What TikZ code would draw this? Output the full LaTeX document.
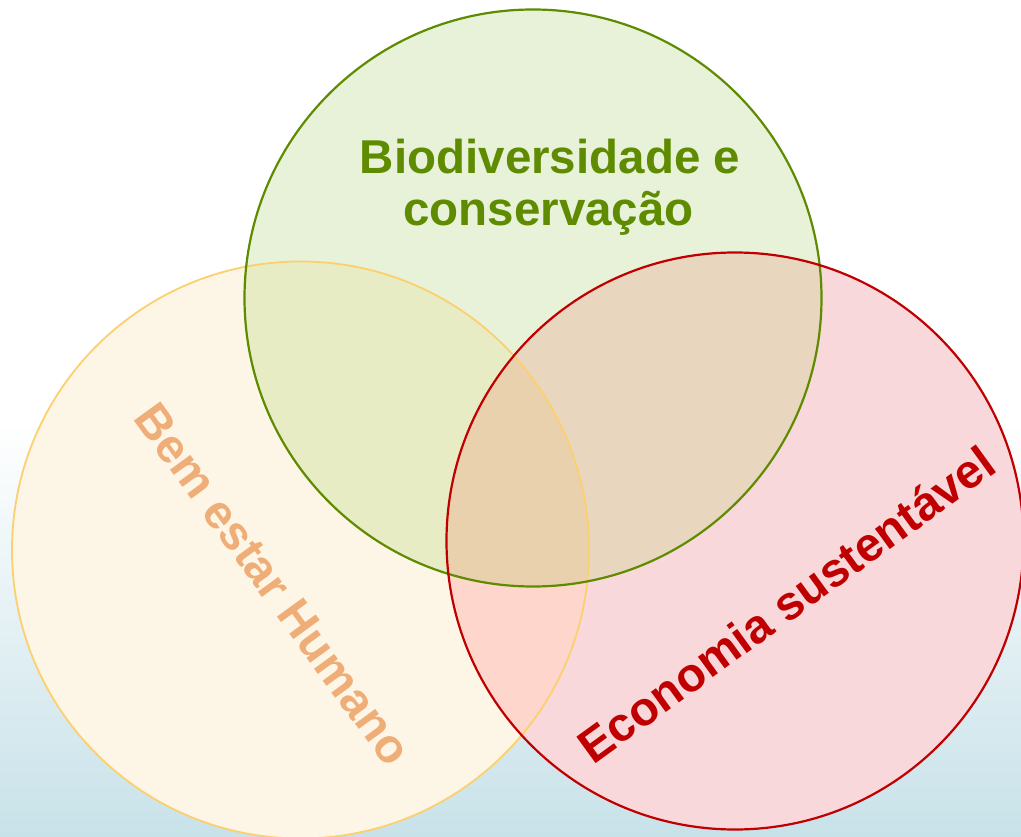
\documentclass[tikz,border=0pt]{standalone}
\usepackage{fontspec}
\setmainfont{Liberation Sans}
\definecolor{bgblue}{RGB}{200,226,233}
\definecolor{yonly}{RGB}{253,246,230}
\definecolor{gonly}{RGB}{232,242,216}
\definecolor{ronly}{RGB}{249,216,219}
\definecolor{gy}{RGB}{232,236,196}
\definecolor{gr}{RGB}{232,214,190}
\definecolor{yr}{RGB}{254,214,204}
\definecolor{gyr}{RGB}{234,209,174}
\definecolor{gline}{RGB}{95,139,0}
\definecolor{rline}{RGB}{192,0,0}
\definecolor{yline}{RGB}{252,208,110}
\definecolor{bemtxt}{RGB}{239,173,120}
\begin{document}
\begin{tikzpicture}[x=1pt,y=-1pt,
  lbl/.style={inner sep=0pt,font=\fontsize{47.5}{50}\selectfont\bfseries},
  outline/.style={line width=2.2pt}]
\useasboundingbox (0,0) rectangle (1021,837);
\fill[white] (0,0) rectangle (1021,837);
\shade[top color=white, bottom color=bgblue] (0,420) rectangle (1021,837);
\coordinate (cg) at (533,298);
\coordinate (cy) at (300.5,550);
\coordinate (cr) at (735,541);
\def\rr{288.5}
% single fills
\fill[yonly] (cy) circle[radius=\rr];
\fill[gonly] (cg) circle[radius=\rr];
\fill[ronly] (cr) circle[radius=\rr];
% pairwise
\begin{scope}
  \clip (cg) circle[radius=\rr];
  \fill[gy] (cy) circle[radius=\rr];
  \fill[gr] (cr) circle[radius=\rr];
\end{scope}
\begin{scope}
  \clip (cy) circle[radius=\rr];
  \clip (cr) circle[radius=\rr];
  \fill[yr] (cy) circle[radius=\rr];
  \clip (cg) circle[radius=\rr];
  \fill[gyr] (cy) circle[radius=\rr];
\end{scope}
% outlines
\draw[outline, yline, line width=1.8pt] (cy) circle[radius=\rr];
\draw[outline, gline] (cg) circle[radius=\rr];
\draw[outline, rline] (cr) circle[radius=\rr];
% labels
\node[lbl, text=gline, anchor=base] (bio1) at (550,174) {Biodiversidade e};
\node[lbl, text=gline, anchor=base] (bio2) at (548.5,226) {conservação};
\node[lbl, text=bemtxt, rotate=-54] (bem) at (273,584) {Bem estar Humano};
\node[lbl, text=rline, rotate=36] (eco) at (786,604) {Economia sustentável};
\end{tikzpicture}
\end{document}
